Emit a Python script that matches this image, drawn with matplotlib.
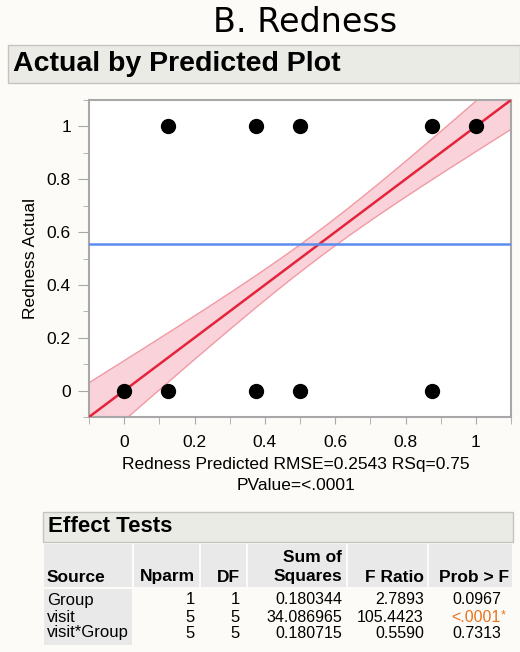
import numpy as np
import matplotlib
matplotlib.use("Agg")
import matplotlib.pyplot as plt
from matplotlib.patches import Rectangle
from matplotlib.ticker import MultipleLocator, FuncFormatter

plt.rcParams['font.family'] = ['Liberation Sans', 'DejaVu Sans']

# actual by predicted points
pred_x = [0, 0.125, 0.375, 0.5, 0.875, 0.125, 0.375, 0.5, 0.875, 1]
actual_y = [0, 0, 0, 0, 0, 1, 1, 1, 1, 1]
mean_actual = 0.556
# confidence band parameters (half-width^2 = a + b*(x - xbar)^2)
band_a = 0.0026
band_b = 0.033

# effect tests table
col_names = ["Source", "Nparm", "DF", "Sum of\nSquares", "F Ratio", "Prob > F"]
sources = ["Group", "visit", "visit*Group"]
nparm = ["1", "5", "5"]
dfs = ["1", "5", "5"]
sum_sq = ["0.180344", "34.086965", "0.180715"]
f_ratio = ["2.7893", "105.4423", "0.5590"]
prob_f = ["0.0967", "<.0001", "0.7313"]
signif = [False, True, False]

W, H = 520, 652
fig = plt.figure(figsize=(W / 100, H / 100), dpi=100)
fig.patch.set_facecolor('#fcfbf7')

# background layer in pixel coordinates
bg = fig.add_axes([0, 0, 1, 1], zorder=0)
bg.set_xlim(0, W)
bg.set_ylim(H, 0)
bg.axis('off')

bg.text(305, 23, "B. Redness", fontsize=24, ha='center', va='center',
        family='DejaVu Sans')
bg.add_patch(Rectangle((8, 45), W - 8, 38, facecolor='#ebebe6', edgecolor='#c4c4c0', lw=1))
bg.text(13, 64, "Actual by Predicted Plot", fontsize=20.5, fontweight='bold',
        ha='left', va='center')

# main plot
ax = fig.add_axes([89 / W, 1 - 417 / H, (511 - 89) / W, (417 - 100) / H], zorder=1)
ax.set_facecolor('white')
ax.set_xlim(-0.1, 1.1)
ax.set_ylim(-0.1, 1.1)

xs = np.linspace(-0.1, 1.1, 200)
half = np.sqrt(band_a + band_b * (xs - mean_actual) ** 2)
ax.fill_between(xs, xs - half, xs + half, facecolor='#f9d3d9', edgecolor='none', zorder=1)
ax.plot(xs, xs + half, color='#f19aa4', lw=1, zorder=2)
ax.plot(xs, xs - half, color='#f19aa4', lw=1, zorder=2)
ax.plot(xs, xs, color='#e5233a', lw=1.8, zorder=3)
ax.axhline(mean_actual, color='#5a8cf0', lw=1.8, zorder=3)
ax.plot(pred_x, actual_y, 'o', color='black', markersize=10, zorder=4, clip_on=False)

for s in ax.spines.values():
    s.set_color('#a8a8a8')
    s.set_linewidth(1.5)

ax.xaxis.set_major_locator(MultipleLocator(0.2))
ax.xaxis.set_minor_locator(MultipleLocator(0.1))
ax.yaxis.set_major_locator(MultipleLocator(0.2))
ax.yaxis.set_minor_locator(MultipleLocator(0.1))
fmt = FuncFormatter(lambda v, p: f"{round(v, 3):g}")
ax.xaxis.set_major_formatter(fmt)
ax.yaxis.set_major_formatter(fmt)
ax.tick_params(which='major', axis='y', length=8, color='#a8a8a8', labelsize=12.5, pad=5)
ax.tick_params(which='minor', axis='y', length=4, color='#a8a8a8')
ax.tick_params(which='both', axis='x', length=5, color='#a8a8a8', labelsize=12.5, pad=8)
ax.set_ylabel("Redness Actual", fontsize=12.5, labelpad=6)

bg.text(296, 464, "Redness Predicted RMSE=0.2543 RSq=0.75", fontsize=12.5,
        ha='center', va='center')
bg.text(296, 486, "PValue=<.0001", fontsize=12.5, ha='center', va='center')

# effect tests table
bg.add_patch(Rectangle((43, 512), 470, 30, facecolor='#ebebe6', edgecolor='#c4c4c0', lw=1))
bg.text(48, 527, "Effect Tests", fontsize=16, fontweight='bold', ha='left', va='center')

col_edges = [43, 133, 200, 247, 347, 428, 513]
for i in range(len(col_names)):
    x0, x1 = col_edges[i], col_edges[i + 1]
    bg.add_patch(Rectangle((x0 + 1, 544), x1 - x0 - 2, 43, facecolor='#e9e9e9',
                           edgecolor='none'))
bg.add_patch(Rectangle((44, 589), 88, 56, facecolor='#e9e9e9', edgecolor='none'))

head_y = 577
bg.text(47, head_y, col_names[0], fontsize=12.5, fontweight='bold', ha='left', va='center')
right_x = [195, 240, 342, 424, 509]
for i, name in enumerate(col_names[1:]):
    lines = name.split("\n")
    for j, ln in enumerate(reversed(lines)):
        bg.text(right_x[i], head_y - 20 * j, ln, fontsize=12.5, fontweight='bold',
                ha='right', va='center')

row_y = [600, 617, 633]
for r in range(len(sources)):
    y = row_y[r]
    bg.text(47, y, sources[r], fontsize=12, ha='left', va='center')
    bg.text(right_x[0], y, nparm[r], fontsize=12, ha='right', va='center')
    bg.text(right_x[1], y, dfs[r], fontsize=12, ha='right', va='center')
    bg.text(right_x[2], y, sum_sq[r], fontsize=11.5, ha='right', va='center')
    bg.text(right_x[3], y, f_ratio[r], fontsize=11.5, ha='right', va='center')
    c = '#e8741e' if signif[r] else 'black'
    bg.text(501, y, prob_f[r], fontsize=11.5, ha='right', va='center', color=c)
    if signif[r]:
        bg.text(501, y - 2, "*", fontsize=9, ha='left', va='center', color=c)

fig.savefig("out.png", dpi=100, facecolor=fig.get_facecolor())
